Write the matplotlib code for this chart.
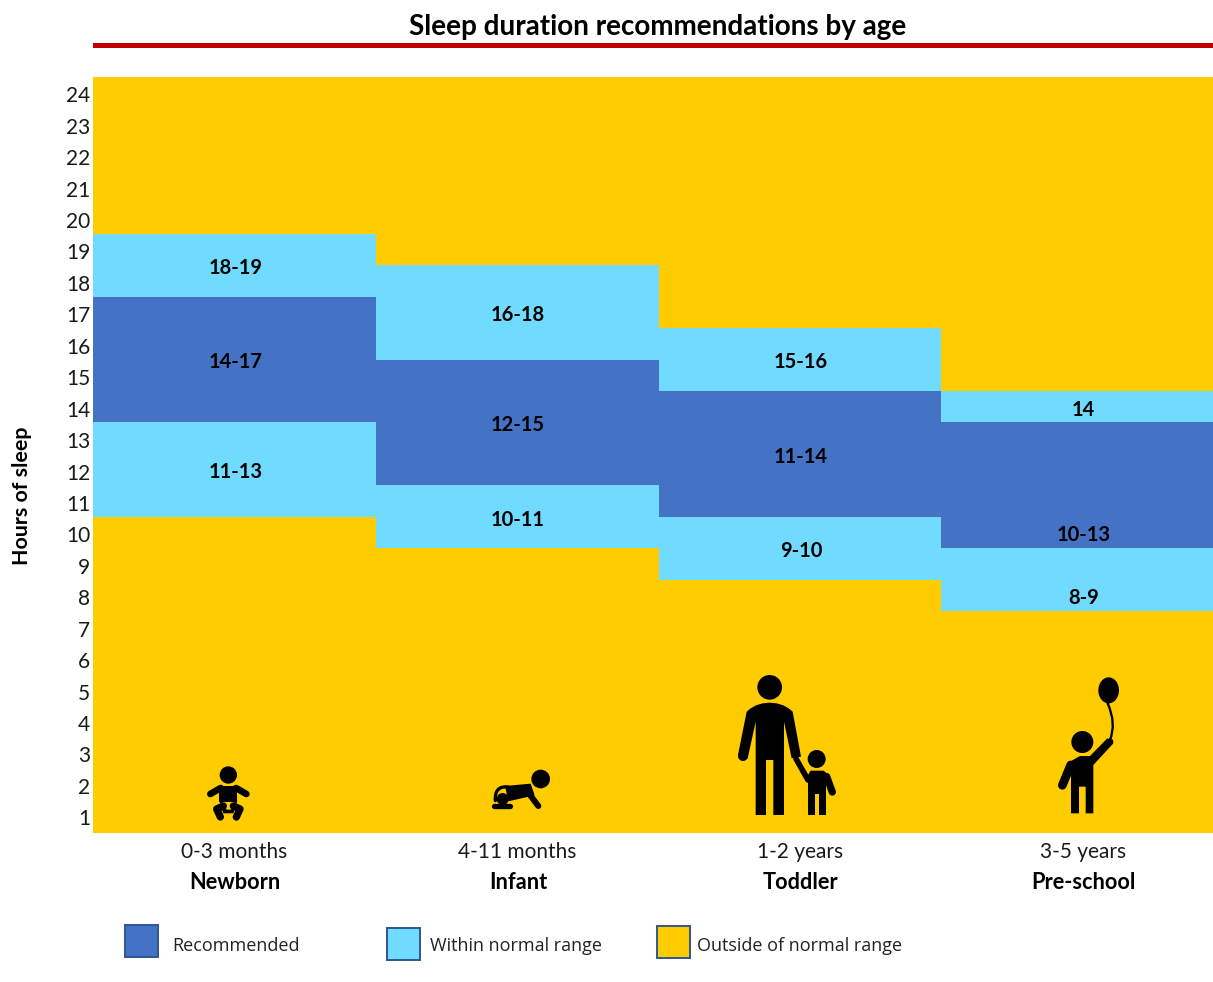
import matplotlib
matplotlib.use('Agg')
import matplotlib.pyplot as plt
from matplotlib.patches import Circle, Ellipse, Polygon, Rectangle, PathPatch
from matplotlib.path import Path
from matplotlib.transforms import blended_transform_factory

plt.rcParams['font.family'] = ['Lato', 'DejaVu Sans']

age_ranges = ['0-3 months', '4-11 months', '1-2 years', '3-5 years']
stages = ['Newborn', 'Infant', 'Toddler', 'Pre-school']
hours = list(range(1, 25))

# hours of sleep, low and high end of each band
low_from = [11, 10, 9, 8]
low_to = [13, 11, 10, 9]
rec_from = [14, 12, 11, 10]
rec_to = [17, 15, 14, 13]
high_from = [18, 16, 15, 14]
high_to = [19, 18, 16, 14]

low_labels = ['11-13', '10-11', '9-10', '8-9']
rec_labels = ['14-17', '12-15', '11-14', '10-13']
high_labels = ['18-19', '16-18', '15-16', '14']
low_label_y = [12, 10.5, 9.5, 8]
rec_label_y = [15.5, 13.5, 12.5, 10]
high_label_y = [18.5, 17, 15.5, 14]

c_rec = '#4472C4'
c_normal = '#71DAFF'
c_outside = '#FFCC00'
W, H = 1213, 982
edge = 0.44  # band edge sits a bit under the half hour

fig = plt.figure(figsize=(W / 100, H / 100), dpi=100)
ax = fig.add_axes([93 / W, 1 - 833 / H, 1120 / W, 756 / H])
ax.set_facecolor(c_outside)

x = list(range(4))
ax.bar(x, [b - a + 1 for a, b in zip(low_from, low_to)], width=1,
       bottom=[a - edge for a in low_from], color=c_normal)
ax.bar(x, [b - a + 1 for a, b in zip(rec_from, rec_to)], width=1,
       bottom=[a - edge for a in rec_from], color=c_rec)
ax.bar(x, [b - a + 1 for a, b in zip(high_from, high_to)], width=1,
       bottom=[a - edge for a in high_from], color=c_normal)

for labels, ys in [(low_labels, low_label_y), (rec_labels, rec_label_y), (high_labels, high_label_y)]:
    for i, (lab, y) in enumerate(zip(labels, ys)):
        ax.text(i + 0.003, y - 0.03, lab, ha='center', va='center', fontsize=14.5, fontweight='bold', color='black')

ax.set_xlim(-0.5, 3.46)
ax.set_ylim(0.5, 24.55)
ax.set_yticks(hours)
ax.set_xticks(x)
ax.set_xticklabels(age_ranges)
ax.tick_params(axis='both', length=0, labelsize=15, labelcolor='#1a1a1a')
ax.tick_params(axis='y', pad=2)
ax.tick_params(axis='x', pad=6.3)
for s in ax.spines.values():
    s.set_visible(False)

trans = blended_transform_factory(ax.transData, ax.transAxes)
for i, name in enumerate(stages):
    ax.text(i + 0.003, -0.066, name, transform=trans, ha='center', va='center',
            fontsize=15.7, fontweight='bold')

# everything else is placed in pixels on a full figure overlay
ov = fig.add_axes([0, 0, 1, 1])
ov.set_xlim(0, W)
ov.set_ylim(H, 0)
ov.axis('off')

ov.text(658, 26.5, 'Sleep duration recommendations by age', ha='center', va='center',
        fontsize=20.1, fontweight='bold')
ov.add_patch(Rectangle((93, 43), 1120, 4.5, color='#C00000', lw=0))
ov.text(22, 496, 'Hours of sleep', rotation=90, ha='center', va='center',
        fontsize=15.4, fontweight='bold')

# legend
legend_items = [('Recommended', c_rec, 125, 925, 172), ('Within normal range', c_normal, 387, 928, 430),
                ('Outside of normal range', c_outside, 657, 926, 697)]
for lab, col, sx, sy, tx in legend_items:
    ov.add_patch(Rectangle((sx, sy), 33, 32, facecolor=col, edgecolor='#2F5597', lw=1.4))
    ov.text(tx, 946, lab, ha='left', va='center', fontsize=13, color='#222222',
            family=['Open Sans', 'DejaVu Sans'])


# pictograms, coordinates are taken from 3x crops of the picture
class Icon:
    def __init__(self, ox, oy):
        self.ox, self.oy = ox, oy

    def p(self, pt):
        return (self.ox + pt[0] / 3, self.oy + pt[1] / 3)

    def circle(self, c, r, col='black'):
        ov.add_patch(Circle(self.p(c), r / 3, color=col, lw=0))

    def poly(self, pts, col='black'):
        ov.add_patch(Polygon([self.p(q) for q in pts], closed=True, color=col, lw=0))

    def line(self, pts, w, col='black'):
        xs, ys = zip(*[self.p(q) for q in pts])
        ov.plot(xs, ys, color=col, lw=w / 3 * 0.72, solid_capstyle='round', solid_joinstyle='round')

    def curve(self, pts, w):
        codes = [Path.MOVETO] + [Path.CURVE3] * (len(pts) - 1)
        ov.add_patch(PathPatch(Path([self.p(q) for q in pts], codes), fc='none', ec='black',
                               lw=w / 3 * 0.72, capstyle='round'))


# newborn
b = Icon(180, 660)
b.circle((145, 345), 26)
b.poly([(118, 378), (172, 378), (172, 425), (118, 425)])
b.line([(122, 384), (91, 402)], 20)
b.line([(168, 384), (199, 402)], 20)
b.line([(130, 438), (110, 447), (121, 471)], 22)
b.line([(160, 438), (180, 447), (169, 471)], 22)
b.poly([(118, 422), (172, 422), (160, 460), (130, 460)])
b.poly([(127, 426), (164, 426), (152, 449), (140, 449)], col=c_outside)

# crawling infant
c = Icon(180, 660)
c.circle((1082, 357), 28)
c.poly([(975, 378), (1052, 371), (1064, 406), (985, 424)])
c.curve([(985, 381), (943, 376), (946, 422)], 10)
c.circle((968, 417), 18)
c.line([(942, 438), (989, 438)], 16)
c.line([(1050, 405), (1075, 438)], 18)

# adult and toddler
a = Icon(720, 660)
a.circle((149, 82), 37)
a.poly([(80, 155), (92, 145), (108, 136), (128, 130), (149, 128), (170, 130), (190, 136), (206, 145), (218, 155),
        (243, 290), (215, 295), (192, 185), (192, 465), (160, 465), (160, 300), (138, 300), (138, 465),
        (107, 465), (107, 185), (83, 295), (54, 285)])
a.circle((69, 288), 15)
a.line([(228, 296), (264, 360)], 17)
a.circle((290, 297), 27)
a.poly([(264, 345), (272, 332), (310, 332), (328, 345), (318, 375), (318, 465), (297, 465), (297, 402),
        (285, 402), (285, 465), (264, 465)])
a.line([(320, 350), (337, 396)], 22)

# child with balloon
k = Icon(720, 660)
k.circle((1087, 246), 33)
k.poly([(1050, 305), (1080, 288), (1110, 288), (1162, 235), (1180, 250), (1120, 315), (1120, 460),
        (1097, 460), (1097, 380), (1077, 380), (1077, 460), (1053, 460), (1053, 335)])
k.line([(1052, 315), (1027, 376)], 26)
k.circle((1170, 245), 10)
ov.add_patch(Ellipse(k.p((1166, 91)), 62 / 3, 78 / 3, color='black', lw=0))
k.poly([(1158, 125), (1172, 125), (1165, 134)])
k.curve([(1163, 130), (1190, 190), (1170, 240)], 7)

fig.savefig('out.png', dpi=100)
